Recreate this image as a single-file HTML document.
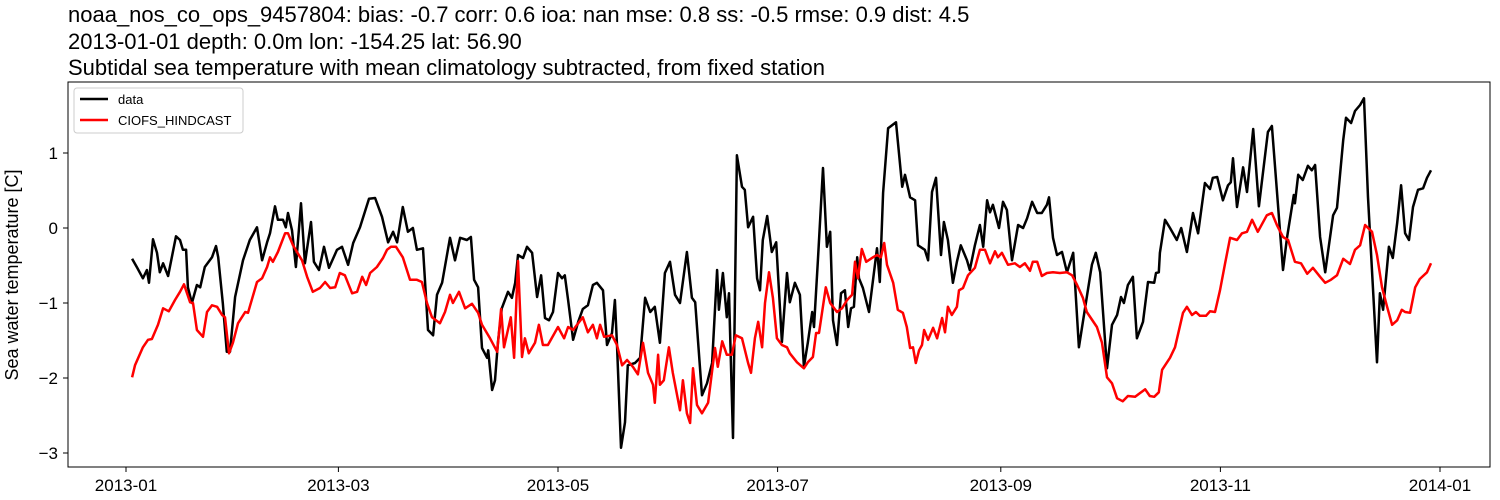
<!DOCTYPE html>
<html><head><meta charset="utf-8"><style>
body{margin:0;background:#fff;}
svg{display:block;font-family:"Liberation Sans","DejaVu Sans",sans-serif;}
</style></head><body>
<svg id="chart" width="1500" height="500" viewBox="0 0 1500 500" xmlns="http://www.w3.org/2000/svg">
<rect width="1500" height="500" fill="#fff"/>
<g font-size="22" fill="#000">
<text x="68" y="22">noaa_nos_co_ops_9457804: bias: -0.7  corr: 0.6  ioa: nan  mse: 0.8  ss: -0.5  rmse: 0.9  dist: 4.5</text>
<text x="68" y="49">2013-01-01 depth: 0.0m lon: -154.25 lat: 56.90</text>
<text x="68" y="75">Subtidal sea temperature with mean climatology subtracted, from fixed station</text>
</g>
<text font-size="18" transform="translate(18,275) rotate(-90)" text-anchor="middle">Sea water temperature [C]</text>
<g id="plot"></g>
<rect x="68" y="82" width="1422" height="385" fill="none" stroke="#000" stroke-width="1"/>
<g>
<rect x="74" y="88" width="169" height="45" rx="3" fill="#fff" stroke="#ccc"/>
<line x1="80" y1="99" x2="108" y2="99" stroke="#000" stroke-width="2.5"/>
<text x="118" y="104" font-size="13">data</text>
<line x1="80" y1="120" x2="108" y2="120" stroke="#f00" stroke-width="2.5"/>
<text x="118" y="125" font-size="13">CIOFS_HINDCAST</text>
</g>
</svg>
<script>
const xTickDays=[0,59,120,181,243,304,365];
const xTickLabels=["2013-01","2013-03","2013-05","2013-07","2013-09","2013-11","2014-01"];
const yTicks=[1,0,-1,-2,-3];
const dataDays=[1.7,3.1,4.7,5.8,6.4,7.5,8.6,9.4,10.3,11.7,13.9,15,15.8,16.7,17.2,18.3,19.7,20.6,21.9,23.9,25,25.6,26.9,28,28.9,30.3,32.5,34.4,36.4,37.8,39.2,40,41.4,42.2,43.6,44.4,45,46.1,47.2,48.6,49.7,51.4,52.2,53.6,55,56.4,58.6,60,61.7,63.1,65,67.5,69.2,71.1,72.8,74.2,75.3,76.9,78.3,79.7,80.8,82.5,83.9,85.3,86.4,87.8,90,91.4,92.8,94.7,95.8,96.7,97.8,98.9,100.3,100.6,101.7,102.5,103.3,104.4,106.1,107.2,108.1,108.9,110.3,111.4,112.8,114.2,115.3,116.4,117.5,118.6,120,121.1,121.9,122.8,124.2,125.6,126.9,128.3,129.7,130.8,132.5,133.6,135,135.8,136.4,137.5,138.6,139.4,141.4,142.8,144.2,145.6,146.9,148.3,149.7,151.1,152.5,153.9,155.8,157.2,158.1,160,161.4,162.8,164.2,164.7,165.8,166.9,167.5,168.6,169.7,171.1,171.9,172.8,174.2,175.3,176.1,176.9,178.1,179.4,180.6,182.2,183.6,184.4,185.8,187.2,188.3,189.4,190.6,191.1,192.2,193.6,194.7,195.6,196.4,197.5,198.6,199.7,200.6,201.4,202.2,203.1,203.6,204.7,206.4,208.6,209.4,210.3,211.7,213.9,215.6,216.4,217.8,219.2,220,221.9,222.8,223.9,225,226.4,227.2,228.3,229.7,230.8,231.9,233.6,234.4,235.8,237.2,238.1,239.2,240,240.8,242.5,243.6,244.7,246.1,247.8,249.2,250.3,251.7,253.1,254.4,255.8,256.4,257.5,258.6,260,261.4,263.1,264.7,266.9,268.3,269.4,270.6,272.5,273.9,275.3,276.4,277.2,278.3,279.7,280.8,282.5,283.9,285.6,286.1,286.9,287.2,288.6,290,291.9,293.1,294.7,296.4,297.8,299.7,301.1,301.9,303.1,304.7,306.1,306.9,307.5,308.6,310.3,311.4,313.1,314.7,317.2,318.3,321.4,322.5,324.4,324.7,325.6,326.9,328.3,329.4,330.3,331.7,333.1,335.3,336.4,338.1,338.9,340.3,341.4,342.8,343.9,345,347.5,348.3,349.2,350.8,351.9,353.1,354.2,355.3,356.4,357.5,358.9,360.3,361.4,362.5];
const dataValues=[-0.41,-0.53,-0.67,-0.56,-0.73,-0.15,-0.33,-0.59,-0.47,-0.64,-0.11,-0.16,-0.29,-0.29,-0.79,-1.0,-0.76,-0.79,-0.52,-0.39,-0.24,-0.39,-1.0,-1.65,-1.65,-0.92,-0.43,-0.16,0.01,-0.43,-0.19,-0.07,0.29,0.11,0.11,0.01,0.2,-0.03,-0.52,0.33,-0.47,0.08,-0.45,-0.56,-0.25,-0.53,-0.29,-0.25,-0.49,-0.2,0.01,0.39,0.4,0.15,-0.19,-0.05,-0.19,0.28,-0.05,0,-0.29,-0.27,-1.36,-1.43,-0.89,-0.73,-0.13,-0.43,-0.13,-0.16,-0.12,-0.69,-0.79,-1.6,-1.73,-1.63,-2.16,-2.03,-1.53,-1.07,-0.85,-0.93,-0.73,-0.36,-0.4,-0.25,-0.33,-0.92,-0.63,-1.2,-1.23,-1.12,-0.6,-0.67,-0.63,-0.96,-1.49,-1.25,-1.08,-1.03,-0.76,-0.73,-0.83,-1.56,-1.4,-0.96,-1.56,-2.93,-2.59,-1.83,-1.8,-1.73,-0.93,-1.12,-1.05,-1.53,-0.6,-0.45,-0.89,-1.0,-0.32,-0.93,-0.99,-2.23,-2.07,-1.8,-0.56,-1.09,-0.6,-1.19,-0.87,-2.8,0.97,0.55,0.51,0.01,0.15,-0.67,-0.83,-0.16,0.16,-0.32,-0.19,-1.52,-0.6,-0.99,-0.73,-0.89,-1.85,-1.53,-1.12,-1.32,-0.43,0.8,-0.25,-0.05,-1.23,-1.56,-0.87,-0.83,-1.32,-1.07,-1.05,-0.39,-0.67,-0.8,-1.12,-0.27,-0.72,0.47,1.33,1.41,0.55,0.71,0.41,0.37,-0.23,-0.29,-0.43,0.48,0.67,-0.36,0.08,-0.16,-0.73,-0.45,-0.23,-0.43,-0.56,-0.23,0.04,-0.25,0.37,0.21,0.31,0,0.35,0.24,-0.43,0.04,0,0.13,0.35,0.2,0.2,0.31,0.41,-0.13,-0.36,-0.32,-0.59,-0.33,-1.59,-0.92,-0.49,-0.33,-0.59,-1.87,-1.29,-1.16,-0.92,-1.0,-0.76,-0.65,-1.47,-1.25,-0.72,-0.73,-0.6,-0.59,-0.33,0.11,0,-0.16,0,-0.32,0.2,-0.07,0.6,0.52,0.67,0.68,0.37,0.57,0.61,0.93,0.28,0.81,0.48,1.32,0.29,1.28,1.36,-0.56,-0.13,0.44,0.33,0.71,0.64,0.83,0.77,0.84,-0.12,-0.59,0.17,0.27,1.17,1.47,1.4,1.56,1.64,1.73,0.41,-1.79,-0.87,-1.09,-0.25,-0.4,0.07,0.57,-0.07,-0.16,0.28,0.51,0.53,0.67,0.77];
const modelDays=[1.7,2.5,4.7,6.1,7.2,8.9,10.3,11.9,13.6,15,16.1,17.8,18.6,19.7,21.4,22.5,23.9,25.3,26.7,27.5,28.6,29.7,31.1,33.1,33.9,36.4,37.8,39.2,40,40.8,42.2,44.2,45,46.4,48.9,50.3,51.9,53.9,55.3,56.7,58.1,59.4,60.8,62.8,64.2,65.6,66.7,67.8,69.7,71.4,72.5,73.6,75,76.9,78.9,80.8,82.2,83.6,85,87.2,88.6,90,90.8,92.5,94.2,96.1,97.8,98.9,101.1,103.1,104.2,105,106.9,107.8,108.9,110,110.8,111.9,113.6,114.7,115.8,117.2,120,121.7,122.8,124.2,126.9,128.3,129.7,130.8,131.7,132.8,135,136.4,137.8,139.2,140.8,142.2,143.6,145,146.4,146.9,147.8,148.3,149.4,150.8,151.9,153.9,154.7,155.8,156.7,157.5,158.6,160,161.7,163.6,164.4,165.6,166.9,168.3,169.4,171.1,172.8,173.6,174.7,175.6,176.7,177.5,178.6,179.7,180.8,182.2,183.6,184.4,186.4,188.3,189.4,190.8,191.7,192.5,194.4,195.6,197.5,198.9,200.3,201.7,202.5,203.3,204.4,205.6,207.5,208.6,209.7,210.6,211.4,213.1,214.4,215.8,216.9,217.8,218.6,219.4,220.3,221.1,221.7,222.8,224.2,225.3,226.7,227.5,228.3,229.4,230.8,231.4,232.5,233.9,235.8,237.2,238.6,240,241.4,242.2,243.3,245,246.9,248.3,249.7,251.1,251.9,253.1,254.4,255.8,257.5,259.4,261.4,262.8,264.2,265.8,266.9,269.7,271.1,272.5,273.9,275.3,276.9,278.3,280.3,281.7,283.1,284.4,285.6,286.9,287.8,290,291.4,293.6,294.7,296.1,297.2,298.3,300,301.1,302.5,303.9,305.3,306.7,308.6,310,311.4,312.8,314.4,316.9,318.3,319.7,321.4,322.8,324.7,326.4,328.1,329.7,331.7,333.1,334.7,336.4,338.1,340,341.4,342.8,344.2,346.1,347.5,348.9,350.3,351.7,353.1,354.4,355.3,356.7,358.1,359.4,361.4,362.5];
const modelValues=[-1.99,-1.83,-1.59,-1.49,-1.48,-1.29,-1.07,-1.11,-0.96,-0.85,-0.75,-0.99,-1.0,-1.36,-1.45,-1.12,-1.03,-1.05,-1.16,-1.19,-1.67,-1.53,-1.27,-1.12,-1.13,-0.72,-0.67,-0.52,-0.39,-0.45,-0.32,-0.07,-0.07,-0.23,-0.43,-0.65,-0.85,-0.8,-0.72,-0.8,-0.79,-0.6,-0.63,-0.87,-0.85,-0.65,-0.76,-0.6,-0.52,-0.4,-0.29,-0.25,-0.25,-0.39,-0.69,-0.69,-0.72,-1.0,-1.19,-1.27,-1.12,-0.89,-1.0,-0.85,-1.07,-1.01,-1.13,-1.29,-1.47,-1.65,-1.08,-1.59,-1.19,-1.73,-0.44,-1.72,-1.47,-1.67,-1.53,-1.29,-1.56,-1.56,-1.32,-1.47,-1.32,-1.36,-1.19,-1.39,-1.29,-1.47,-1.29,-1.45,-1.43,-1.56,-1.83,-1.76,-1.85,-1.95,-1.53,-1.93,-2.09,-2.33,-1.69,-2.09,-2.03,-1.59,-1.93,-2.43,-2.03,-2.47,-2.6,-1.87,-2.36,-2.47,-2.33,-1.6,-1.85,-1.51,-1.69,-1.69,-1.43,-1.47,-1.8,-1.93,-1.47,-1.25,-1.59,-1.0,-0.59,-0.93,-1.47,-1.56,-1.59,-1.67,-1.79,-1.87,-1.79,-1.72,-1.4,-1.4,-0.79,-1.0,-1.12,-1.07,-0.96,-0.89,-0.45,-0.67,-0.28,-0.45,-0.39,-0.36,-0.39,-0.2,-0.49,-0.73,-1.09,-1.13,-1.32,-1.6,-1.59,-1.8,-1.63,-1.56,-1.36,-1.49,-1.33,-1.47,-1.2,-1.39,-1.05,-1.16,-1.05,-0.83,-0.8,-0.63,-0.53,-0.29,-0.29,-0.47,-0.31,-0.39,-0.33,-0.49,-0.47,-0.52,-0.47,-0.57,-0.45,-0.45,-0.64,-0.6,-0.59,-0.6,-0.59,-0.63,-0.76,-0.93,-1.12,-1.32,-1.53,-1.99,-2.07,-2.27,-2.31,-2.24,-2.25,-2.2,-2.15,-2.24,-2.25,-2.19,-1.89,-1.73,-1.59,-1.13,-1.05,-1.16,-1.12,-1.17,-1.17,-1.11,-1.12,-0.83,-0.47,-0.13,-0.16,-0.07,-0.05,0.11,-0.05,0.17,0.2,0.04,-0.12,-0.16,-0.45,-0.47,-0.61,-0.53,-0.65,-0.73,-0.69,-0.63,-0.41,-0.48,-0.29,-0.23,0.04,-0.05,-0.36,-0.79,-1.05,-1.29,-1.23,-1.09,-1.12,-1.13,-0.79,-0.68,-0.59,-0.47];

const X0=126, PXD=3.6, Y0=228, PXU=75;
function xs(d){return X0+d*PXD;}
function ys(v){return Y0-v*PXU;}
const NS="http://www.w3.org/2000/svg";
const plot=document.getElementById('plot');
function mk(tag,attrs){const e=document.createElementNS(NS,tag);for(const k in attrs)e.setAttribute(k,attrs[k]);return e;}
xTickDays.forEach((d,i)=>{
  const t=mk('line',{x1:xs(d),x2:xs(d),y1:467,y2:472,stroke:'#000'});
  
  
  plot.appendChild(t);
  const l=mk('text',{x:xs(d),y:491,'font-size':17,'text-anchor':'middle'});
  
  
  l.textContent=xTickLabels[i];plot.appendChild(l);
});
yTicks.forEach(v=>{
  const t=mk('line',{x1:63,x2:68,y1:ys(v),y2:ys(v),stroke:'#000'});
  
  
  plot.appendChild(t);
  const l=mk('text',{x:58,y:ys(v)+6,'font-size':17,'text-anchor':'end'});
  
  
  l.textContent=v<0?'\u2212'+Math.abs(v):String(v);plot.appendChild(l);
});
function line(days,vals,color,name){
  const d=days.map((dd,i)=>(i?'L':'M')+xs(dd).toFixed(1)+','+ys(vals[i]).toFixed(1)).join('');
  const p=mk('path',{d:d,fill:'none',stroke:color,'stroke-width':2.5,'stroke-linejoin':'round'});
  
  
  plot.appendChild(p);
}
line(dataDays,dataValues,'#000','data-series-line');
line(modelDays,modelValues,'#f00','ciofs-hindcast-line');
</script>
</body></html>
